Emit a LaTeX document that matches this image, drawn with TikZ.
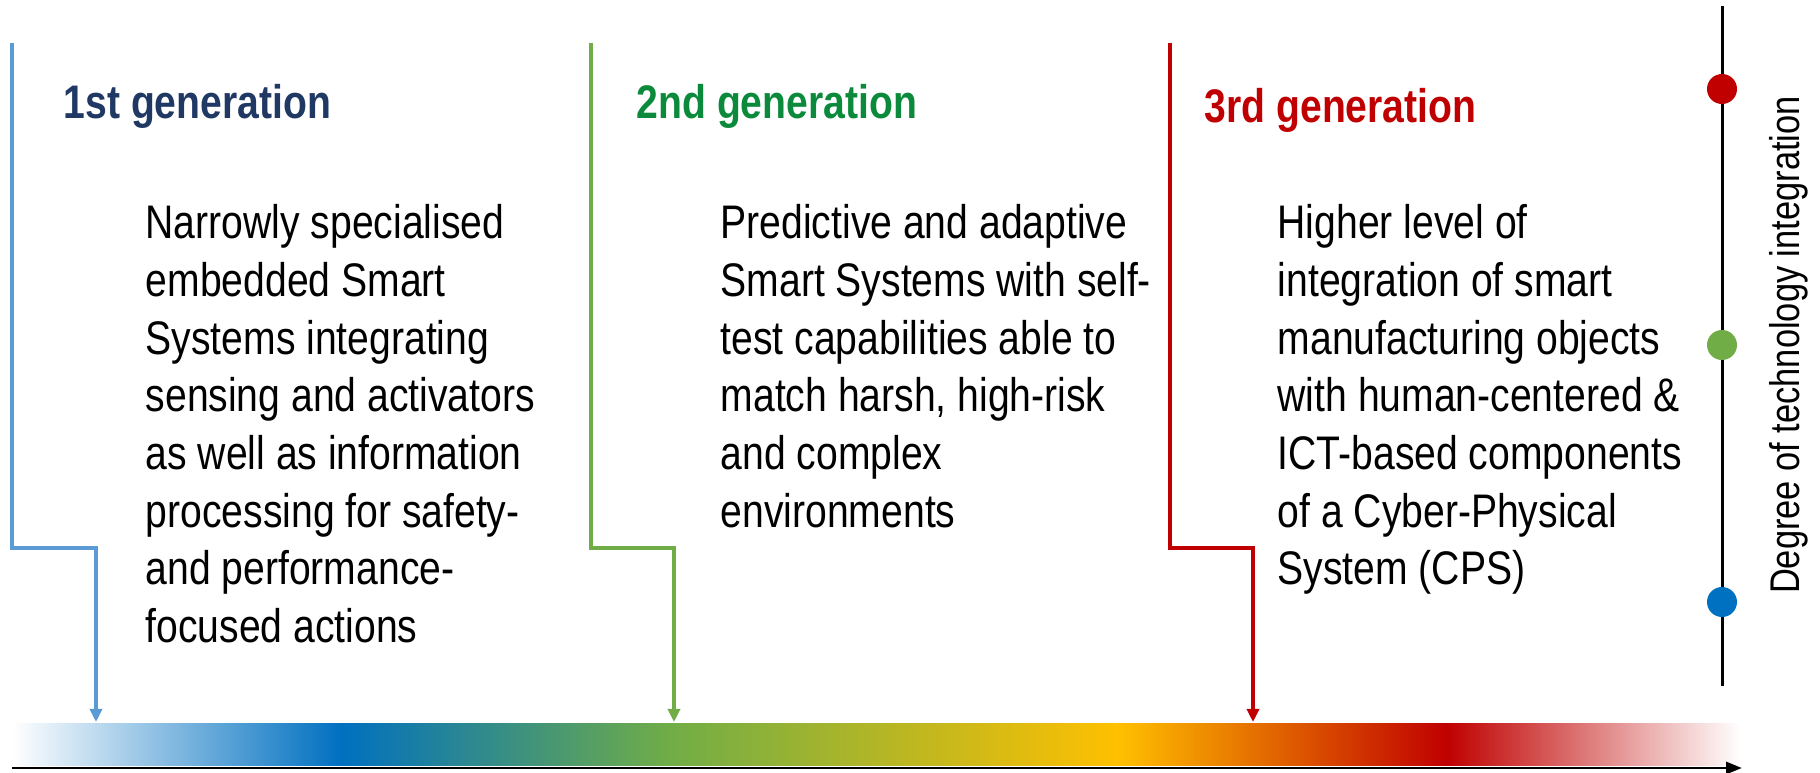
\documentclass[tikz,border=0pt]{standalone}
\usepackage{fontspec}
\setmainfont[FakeStretch=0.83]{Liberation Sans}
\usetikzlibrary{arrows.meta, positioning}

\definecolor{genblue}{HTML}{0070C0}
\definecolor{genlblue}{HTML}{5B9BD5}
\definecolor{gengreen}{HTML}{70AD47}
\definecolor{gendgreen}{HTML}{0A8A3A}
\definecolor{gengold}{HTML}{FFC000}
\definecolor{genred}{HTML}{C00000}
\definecolor{gennavy}{HTML}{1F3864}

% colour band along the time axis
\pgfdeclarehorizontalshading{genbar}{100bp}{color(0bp)=(white); color(25bp)=(white);
  color(34.5bp)=(genblue); color(44bp)=(gengreen); color(57bp)=(gengold);
  color(66.5bp)=(genred); color(75bp)=(white); color(100bp)=(white)}

\begin{document}
\begin{tikzpicture}[x=0.01cm, y=-0.01cm,
        every node/.style={inner sep=0pt},
        head/.style={anchor=base west, font=\fontsize{13.4pt}{16.4pt}\selectfont\bfseries},
        body/.style={anchor=north west, align=left, font=\fontsize{13.4pt}{16.4pt}\selectfont},
        arrow/.style={-{Triangle[length=0.13cm, width=0.12cm]}, line width=1pt},
        axis/.style={-{Triangle[length=0.16cm, width=0.12cm]}, line width=0.85pt},
        dot/.style={circle, minimum size=0.3cm}
    ]
    \useasboundingbox (0,0) rectangle (1820,773);

    % Generation headings
    \node[head, text=gennavy] (h1) at (63,119) {1st generation};
    \node[head, text=gendgreen] (h2) at (636,119) {2nd generation};
    \node[head, text=genred] (h3) at (1204,123) {3rd generation};

    % Descriptions
    \node[body] (txt1) at (145,204) {Narrowly specialised\\embedded Smart\\Systems integrating\\sensing and activators\\as well as information\\processing for safety-\\and performance-\\focused actions};
    \node[body] (txt2) at (720,204) {Predictive and adaptive\\Smart Systems with self-\\test capabilities able to\\match harsh, high-risk\\and complex\\environments};
    \node[body] (txt3) at (1277,204) {Higher level of\\integration of smart\\manufacturing objects\\with human-centered \&\\ICT-based components\\of a Cyber-Physical\\System (CPS)};

    % Time axis with colour band
    \shade[shading=genbar] (12,723) rectangle (1740,765);
    \coordinate (t0) at (12,768);
    \coordinate (t1) at (1742,768);
    \draw[axis] (t0) -- (t1);

    % Arrows down to the band
    \coordinate (top1) at (12,43);
    \coordinate (top2) at (591,43);
    \coordinate (top3) at (1170,43);
    \coordinate (tip1) at (96,722);
    \coordinate (tip2) at (674,722);
    \coordinate (tip3) at (1253,722);
    \draw[arrow, genlblue] (top1) -- ++(0,505) -| (tip1);
    \draw[arrow, gengreen] (top2) -- ++(0,505) -| (tip2);
    \draw[arrow, genred] (top3) -- ++(0,505) -| (tip3);

    % Degree of integration
    \coordinate (v0) at (1722,6);
    \coordinate (v1) at (1722,686);
    \draw[line width=0.85pt] (v0) -- (v1);
    \node[dot, fill=genred] (d3) at (1722,89) {};
    \node[dot, fill=gengreen] (d2) at (1722,345) {};
    \node[dot, fill=genblue] (d1) at (1722,602) {};
    \node[rotate=90, font=\fontsize{11.8pt}{14pt}\selectfont] (deg) at (1789,345) {Degree of technology integration};

\end{tikzpicture}
\end{document}
